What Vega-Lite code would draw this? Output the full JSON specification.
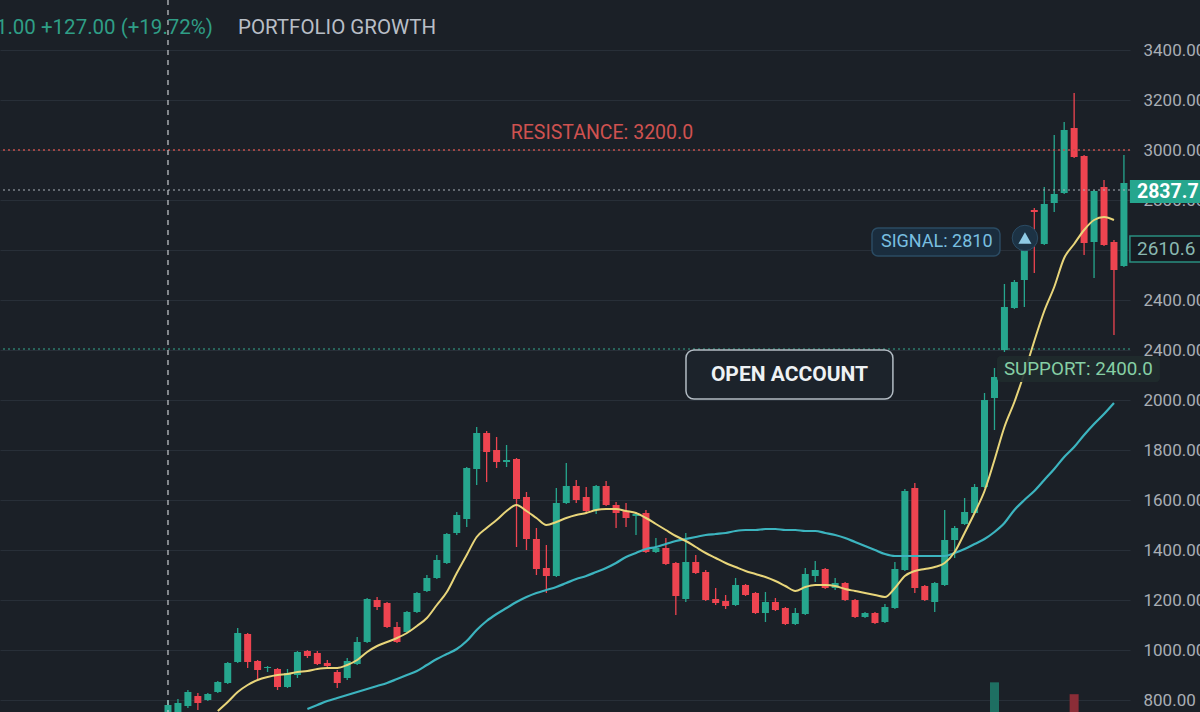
{
  "$schema": "https://vega.github.io/schema/vega-lite/v6.json",
  "width": 1130,
  "height": 712,
  "autosize": {"type": "none"},
  "padding": {"left": 0, "top": 0, "right": 70, "bottom": 0},
  "background": "#1b2027",
  "config": {"view": {"stroke": null}, "font": "Roboto"},
  "datasets": {
    "candles": [
      {"i":0,"o":728,"h":800,"l":720,"c":780},
      {"i":1,"o":744,"h":804,"l":736,"c":788},
      {"i":2,"o":776,"h":840,"l":768,"c":832},
      {"i":3,"o":816,"h":828,"l":760,"c":788},
      {"i":4,"o":800,"h":828,"l":796,"c":824},
      {"i":5,"o":832,"h":876,"l":828,"c":872,"f":756},
      {"i":6,"o":868,"h":952,"l":864,"c":948,"f":792},
      {"i":7,"o":952,"h":1088,"l":948,"c":1068,"f":832},
      {"i":8,"o":1064,"h":1068,"l":928,"c":952,"f":860},
      {"i":9,"o":956,"h":960,"l":884,"c":920,"f":880},
      {"i":10,"o":928,"h":936,"l":912,"c":932,"f":892},
      {"i":11,"o":924,"h":928,"l":840,"c":852,"f":900},
      {"i":12,"o":852,"h":924,"l":848,"c":908,"f":904},
      {"i":13,"o":900,"h":996,"l":888,"c":992,"f":912},
      {"i":14,"o":996,"h":1000,"l":968,"c":976,"f":916,"s":764},
      {"i":15,"o":988,"h":996,"l":940,"c":944,"f":924,"s":780},
      {"i":16,"o":948,"h":960,"l":932,"c":936,"f":928,"s":796},
      {"i":17,"o":912,"h":920,"l":848,"c":868,"f":928,"s":808},
      {"i":18,"o":888,"h":968,"l":880,"c":956,"f":940,"s":820},
      {"i":19,"o":944,"h":1052,"l":940,"c":1032,"f":960,"s":832},
      {"i":20,"o":1032,"h":1208,"l":1028,"c":1204,"f":992,"s":844},
      {"i":21,"o":1200,"h":1212,"l":1160,"c":1172,"f":1016,"s":856},
      {"i":22,"o":1188,"h":1192,"l":1088,"c":1092,"f":1032,"s":868},
      {"i":23,"o":1092,"h":1112,"l":1028,"c":1032,"f":1048,"s":884},
      {"i":24,"o":1072,"h":1156,"l":1068,"c":1152,"f":1068,"s":900},
      {"i":25,"o":1152,"h":1232,"l":1148,"c":1228,"f":1096,"s":916},
      {"i":26,"o":1236,"h":1300,"l":1232,"c":1288,"f":1128,"s":940},
      {"i":27,"o":1288,"h":1380,"l":1284,"c":1360,"f":1180,"s":964},
      {"i":28,"o":1348,"h":1468,"l":1344,"c":1464,"f":1232,"s":984},
      {"i":29,"o":1468,"h":1552,"l":1460,"c":1540,"f":1308,"s":1004},
      {"i":30,"o":1524,"h":1732,"l":1492,"c":1728,"f":1380,"s":1036},
      {"i":31,"o":1724,"h":1892,"l":1660,"c":1868,"f":1452,"s":1080},
      {"i":32,"o":1868,"h":1876,"l":1672,"c":1792,"f":1488,"s":1116},
      {"i":33,"o":1800,"h":1852,"l":1728,"c":1752,"f":1520,"s":1144},
      {"i":34,"o":1752,"h":1820,"l":1732,"c":1760,"f":1556,"s":1168},
      {"i":35,"o":1764,"h":1768,"l":1412,"c":1604,"f":1580,"s":1192},
      {"i":36,"o":1612,"h":1632,"l":1400,"c":1444,"f":1556,"s":1212},
      {"i":37,"o":1444,"h":1488,"l":1300,"c":1324,"f":1528,"s":1228},
      {"i":38,"o":1328,"h":1420,"l":1228,"c":1296,"f":1500,"s":1240},
      {"i":39,"o":1296,"h":1648,"l":1292,"c":1588,"f":1512,"s":1252},
      {"i":40,"o":1588,"h":1748,"l":1584,"c":1656,"f":1528,"s":1268},
      {"i":41,"o":1656,"h":1680,"l":1588,"c":1600,"f":1540,"s":1284},
      {"i":42,"o":1612,"h":1652,"l":1548,"c":1556,"f":1548,"s":1296},
      {"i":43,"o":1560,"h":1660,"l":1544,"c":1656,"f":1560,"s":1312},
      {"i":44,"o":1656,"h":1676,"l":1576,"c":1580,"f":1564,"s":1328},
      {"i":45,"o":1580,"h":1592,"l":1488,"c":1548,"f":1564,"s":1348},
      {"i":46,"o":1556,"h":1588,"l":1492,"c":1528,"f":1556,"s":1372},
      {"i":47,"o":1536,"h":1552,"l":1460,"c":1544,"f":1548,"s":1388},
      {"i":48,"o":1548,"h":1560,"l":1388,"c":1392,"f":1528,"s":1404},
      {"i":49,"o":1392,"h":1448,"l":1388,"c":1408,"f":1504,"s":1412},
      {"i":50,"o":1408,"h":1448,"l":1340,"c":1344,"f":1480,"s":1424},
      {"i":51,"o":1348,"h":1352,"l":1140,"c":1216,"f":1456,"s":1436},
      {"i":52,"o":1204,"h":1468,"l":1192,"c":1352,"f":1436,"s":1444},
      {"i":53,"o":1352,"h":1380,"l":1304,"c":1308,"f":1412,"s":1452},
      {"i":54,"o":1312,"h":1320,"l":1196,"c":1200,"f":1388,"s":1460},
      {"i":55,"o":1204,"h":1248,"l":1180,"c":1188,"f":1368,"s":1464},
      {"i":56,"o":1196,"h":1220,"l":1164,"c":1176,"f":1348,"s":1468},
      {"i":57,"o":1180,"h":1288,"l":1176,"c":1260,"f":1332,"s":1476},
      {"i":58,"o":1260,"h":1264,"l":1216,"c":1220,"f":1316,"s":1480},
      {"i":59,"o":1228,"h":1232,"l":1144,"c":1148,"f":1304,"s":1480},
      {"i":60,"o":1148,"h":1232,"l":1112,"c":1192,"f":1292,"s":1484},
      {"i":61,"o":1192,"h":1208,"l":1156,"c":1160,"f":1276,"s":1484},
      {"i":62,"o":1168,"h":1172,"l":1100,"c":1104,"f":1256,"s":1480},
      {"i":63,"o":1104,"h":1168,"l":1100,"c":1148,"f":1236,"s":1480},
      {"i":64,"o":1144,"h":1328,"l":1140,"c":1304,"f":1252,"s":1476},
      {"i":65,"o":1296,"h":1356,"l":1272,"c":1320,"f":1260,"s":1476},
      {"i":66,"o":1324,"h":1328,"l":1244,"c":1248,"f":1260,"s":1468},
      {"i":67,"o":1248,"h":1288,"l":1240,"c":1268,"f":1256,"s":1460},
      {"i":68,"o":1268,"h":1272,"l":1196,"c":1200,"f":1244,"s":1448},
      {"i":69,"o":1200,"h":1204,"l":1128,"c":1132,"f":1236,"s":1432},
      {"i":70,"o":1132,"h":1152,"l":1128,"c":1148,"f":1228,"s":1416},
      {"i":71,"o":1148,"h":1152,"l":1104,"c":1108,"f":1220,"s":1400},
      {"i":72,"o":1112,"h":1184,"l":1108,"c":1172,"f":1212,"s":1384},
      {"i":73,"o":1168,"h":1352,"l":1164,"c":1324,"f":1248,"s":1376},
      {"i":74,"o":1320,"h":1644,"l":1316,"c":1636,"f":1296,"s":1376},
      {"i":75,"o":1648,"h":1668,"l":1228,"c":1248,"f":1316,"s":1376},
      {"i":76,"o":1256,"h":1260,"l":1196,"c":1200,"f":1324,"s":1376},
      {"i":77,"o":1192,"h":1272,"l":1152,"c":1268,"f":1332,"s":1376},
      {"i":78,"o":1260,"h":1560,"l":1256,"c":1440,"f":1348,"s":1376},
      {"i":79,"o":1440,"h":1496,"l":1368,"c":1488,"f":1392,"s":1388},
      {"i":80,"o":1504,"h":1608,"l":1500,"c":1552,"f":1468,"s":1404},
      {"i":81,"o":1548,"h":1664,"l":1544,"c":1652,"f":1548,"s":1424},
      {"i":82,"o":1652,"h":2028,"l":1648,"c":2000,"f":1636,"s":1444},
      {"i":83,"o":2008,"h":2128,"l":1880,"c":2092,"f":1760,"s":1472,"vol":100},
      {"i":84,"o":2200,"h":2464,"l":2192,"c":2372,"f":1892,"s":1508},
      {"i":85,"o":2368,"h":2480,"l":2364,"c":2472,"f":1992,"s":1560},
      {"i":86,"o":2480,"h":2616,"l":2372,"c":2608,"f":2108,"s":1600},
      {"i":87,"o":2760,"h":2768,"l":2508,"c":2752,"f":2236,"s":1636},
      {"i":88,"o":2624,"h":2852,"l":2620,"c":2784,"f":2356,"s":1680},
      {"i":89,"o":2788,"h":3060,"l":2752,"c":2824,"f":2452,"s":1724},
      {"i":90,"o":2828,"h":3112,"l":2824,"c":3080,"f":2568,"s":1772},
      {"i":91,"o":3088,"h":3228,"l":2968,"c":2972,"f":2624,"s":1812,"vol":60},
      {"i":92,"o":2976,"h":2980,"l":2580,"c":2628,"f":2680,"s":1860},
      {"i":93,"o":2632,"h":2840,"l":2488,"c":2836,"f":2720,"s":1904},
      {"i":94,"o":2852,"h":2880,"l":2616,"c":2620,"f":2732,"s":1944},
      {"i":95,"o":2632,"h":2640,"l":2260,"c":2520,"f":2720,"s":1988},
      {"i":96,"o":2536,"h":2980,"l":2532,"c":2868}
    ]
  },
  "resolve": {"scale": {"y": "independent"}},
  "layer": [
    {
      "data": {"name": "candles"},
      "transform": [{"filter": "isValid(datum.vol)"}],
      "mark": {"type": "bar", "width": 9},
      "encoding": {
        "x": {"field": "i", "type": "quantitative", "scale": {"domain": [-16.87, 96.61], "nice": false, "zero": false, "padding": 0}, "axis": null},
        "y": {"field": "vol", "type": "quantitative", "scale": {"domain": [0, 2400], "nice": false}, "axis": null},
        "color": {"condition": {"test": "datum.c >= datum.o", "value": "#1e6f62"}, "value": "#8b2d37"}
      }
    },
    {
      "layer": [
        {
          "data": {"name": "candles"},
          "mark": {"type": "rule", "strokeWidth": 1.3, "clip": true},
          "encoding": {
            "x": {"field": "i", "type": "quantitative", "scale": {"domain": [-16.87, 96.61], "nice": false, "zero": false, "padding": 0},
              "axis": {"values": [1.0, 25.1, 49.1, 73.0, 96.1], "labels": false, "ticks": false, "domain": false, "grid": true, "gridColor": "#262d35", "title": null}},
            "y": {"field": "l", "type": "quantitative", "scale": {"domain": [752, 3600], "nice": false, "zero": false},
              "axis": {"orient": "right", "values": [800, 1000, 1200, 1400, 1600, 1800, 2000, 2200, 2400, 2600, 2800, 3000, 3200, 3400],
                "labelExpr": "datum.value == 2200 ? '2400.00' : format(datum.value, '.2f')",
                "labelFont": "Roboto", "labelFontSize": 17, "labelColor": "#a9aeb5", "labelAlign": "left", "labelPadding": 13,
                "ticks": false, "domain": false, "grid": true, "gridColor": "#282f38", "title": null}},
            "y2": {"field": "h"},
            "color": {"condition": {"test": "datum.c >= datum.o", "value": "#26a68e"}, "value": "#ee4450"}
          }
        },
        {
          "data": {"name": "candles"},
          "mark": {"type": "bar", "width": 7, "clip": true},
          "encoding": {
            "x": {"field": "i", "type": "quantitative"},
            "y": {"field": "o", "type": "quantitative"},
            "y2": {"field": "c"},
            "color": {"condition": {"test": "datum.c >= datum.o", "value": "#26a68e"}, "value": "#ee4450"}
          }
        },
        {
          "data": {"name": "candles"},
          "mark": {"type": "line", "color": "#3cb4bf", "strokeWidth": 2.2, "interpolate": "monotone", "clip": true},
          "encoding": {"x": {"field": "i", "type": "quantitative"}, "y": {"field": "s", "type": "quantitative"}}
        },
        {
          "data": {"name": "candles"},
          "mark": {"type": "line", "color": "#e8d57a", "strokeWidth": 2, "interpolate": "monotone", "clip": true},
          "encoding": {"x": {"field": "i", "type": "quantitative"}, "y": {"field": "f", "type": "quantitative"}}
        },
        {
          "data": {"values": [{}]},
          "mark": {"type": "rule", "color": "#c44d4a", "strokeWidth": 1.3, "strokeDash": [2, 3]},
          "encoding": {"y": {"datum": 3000, "type": "quantitative"}}
        },
        {
          "data": {"values": [{}]},
          "mark": {"type": "rule", "color": "#aab0b8", "strokeWidth": 1.2, "strokeDash": [2, 3]},
          "encoding": {"y": {"datum": 2840, "type": "quantitative"}}
        },
        {
          "data": {"values": [{}]},
          "mark": {"type": "rule", "color": "#36a88e", "strokeWidth": 1.2, "strokeDash": [2, 3]},
          "encoding": {"y": {"datum": 2204, "type": "quantitative"}}
        },
        {
          "data": {"values": [{}]},
          "mark": {"type": "rule", "color": "#c9ccd0", "strokeWidth": 1.2, "strokeDash": [5, 5]},
          "encoding": {"x": {"datum": 0, "type": "quantitative"}}
        },
        {
          "data": {"values": [{}]},
          "mark": {"type": "text", "text": "RESISTANCE: 3200.0", "font": "Roboto", "fontSize": 19.5, "color": "#cf5250", "align": "center", "baseline": "middle"},
          "encoding": {"x": {"datum": 43.58, "type": "quantitative"}, "y": {"datum": 3068, "type": "quantitative"}}
        },
        {
          "data": {"values": [{}]},
          "mark": {"type": "text", "text": "1.00 +127.00 (+19.72%)", "font": "Roboto", "fontSize": 20.5, "color": "#2f9e86", "align": "right", "baseline": "middle"},
          "encoding": {"x": {"datum": 4.52, "type": "quantitative"}, "y": {"datum": 3488, "type": "quantitative"}}
        },
        {
          "data": {"values": [{}]},
          "mark": {"type": "text", "text": "PORTFOLIO GROWTH", "font": "Roboto", "fontSize": 20.5, "color": "#b8bec6", "align": "left", "baseline": "middle"},
          "encoding": {"x": {"datum": 7.03, "type": "quantitative"}, "y": {"datum": 3488, "type": "quantitative"}}
        },
        {
          "data": {"values": [{}]},
          "mark": {"type": "rect", "fill": "#1c232b", "stroke": "#b3bcc4", "strokeWidth": 1.5, "cornerRadius": 8},
          "encoding": {"x": {"datum": 52.02, "type": "quantitative"}, "x2": {"datum": 72.8}, "y": {"datum": 2200, "type": "quantitative"}, "y2": {"datum": 2004}}
        },
        {
          "data": {"values": [{}]},
          "mark": {"type": "text", "text": "OPEN ACCOUNT", "font": "Roboto", "fontSize": 21, "fontWeight": "bold", "color": "#eef2f4", "align": "center", "baseline": "middle"},
          "encoding": {"x": {"datum": 62.41, "type": "quantitative"}, "y": {"datum": 2100, "type": "quantitative"}}
        },
        {
          "data": {"values": [{}]},
          "mark": {"type": "rect", "fill": "#1f2b2d", "opacity": 0.92, "cornerRadius": 4},
          "encoding": {"x": {"datum": 83.25, "type": "quantitative"}, "x2": {"datum": 99.62}, "y": {"datum": 2176, "type": "quantitative"}, "y2": {"datum": 2072}}
        },
        {
          "data": {"values": [{}]},
          "mark": {"type": "text", "text": "SUPPORT: 2400.0", "font": "Roboto", "fontSize": 18.8, "color": "#86cfa5", "align": "left", "baseline": "middle"},
          "encoding": {"x": {"datum": 83.95, "type": "quantitative"}, "y": {"datum": 2124, "type": "quantitative"}}
        },
        {
          "data": {"values": [{}]},
          "mark": {"type": "rect", "fill": "#1a2d3e", "stroke": "#2b4b63", "strokeWidth": 1.5, "cornerRadius": 6},
          "encoding": {"x": {"datum": 70.7, "type": "quantitative"}, "x2": {"datum": 83.55}, "y": {"datum": 2688, "type": "quantitative"}, "y2": {"datum": 2576}}
        },
        {
          "data": {"values": [{}]},
          "mark": {"type": "text", "text": "SIGNAL: 2810", "font": "Roboto", "fontSize": 18, "color": "#79bfe0", "align": "left", "baseline": "middle"},
          "encoding": {"x": {"datum": 71.6, "type": "quantitative"}, "y": {"datum": 2632, "type": "quantitative"}}
        },
        {
          "data": {"values": [{}]},
          "mark": {"type": "point", "shape": "circle", "size": 650, "filled": true, "fill": "#1c3244", "stroke": "#2b4b63", "strokeWidth": 1, "opacity": 1},
          "encoding": {"x": {"datum": 86.06, "type": "quantitative"}, "y": {"datum": 2648, "type": "quantitative"}}
        },
        {
          "data": {"values": [{}]},
          "mark": {"type": "point", "shape": "triangle-up", "size": 170, "filled": true, "fill": "#8fcbe6", "opacity": 1},
          "encoding": {"x": {"datum": 86.06, "type": "quantitative"}, "y": {"datum": 2648, "type": "quantitative"}}
        },
        {
          "data": {"values": [{}]},
          "mark": {"type": "rect", "fill": "#26a68e"},
          "encoding": {"x": {"datum": 96.6, "type": "quantitative"}, "x2": {"datum": 104.5}, "y": {"datum": 2880, "type": "quantitative"}, "y2": {"datum": 2788}}
        },
        {
          "data": {"values": [{}]},
          "mark": {"type": "text", "text": "2837.7", "font": "Roboto", "fontSize": 19.5, "fontWeight": "bold", "color": "#ffffff", "align": "left", "baseline": "middle"},
          "encoding": {"x": {"datum": 97.31, "type": "quantitative"}, "y": {"datum": 2834, "type": "quantitative"}}
        },
        {
          "data": {"values": [{}]},
          "mark": {"type": "rect", "fill": "#161b21", "stroke": "#2a8f80", "strokeWidth": 1.5},
          "encoding": {"x": {"datum": 96.6, "type": "quantitative"}, "x2": {"datum": 104.5}, "y": {"datum": 2656, "type": "quantitative"}, "y2": {"datum": 2552}}
        },
        {
          "data": {"values": [{}]},
          "mark": {"type": "text", "text": "2610.6", "font": "Roboto", "fontSize": 19, "color": "#8ab8b0", "align": "left", "baseline": "middle"},
          "encoding": {"x": {"datum": 97.31, "type": "quantitative"}, "y": {"datum": 2604, "type": "quantitative"}}
        }
      ]
    }
  ]
}
